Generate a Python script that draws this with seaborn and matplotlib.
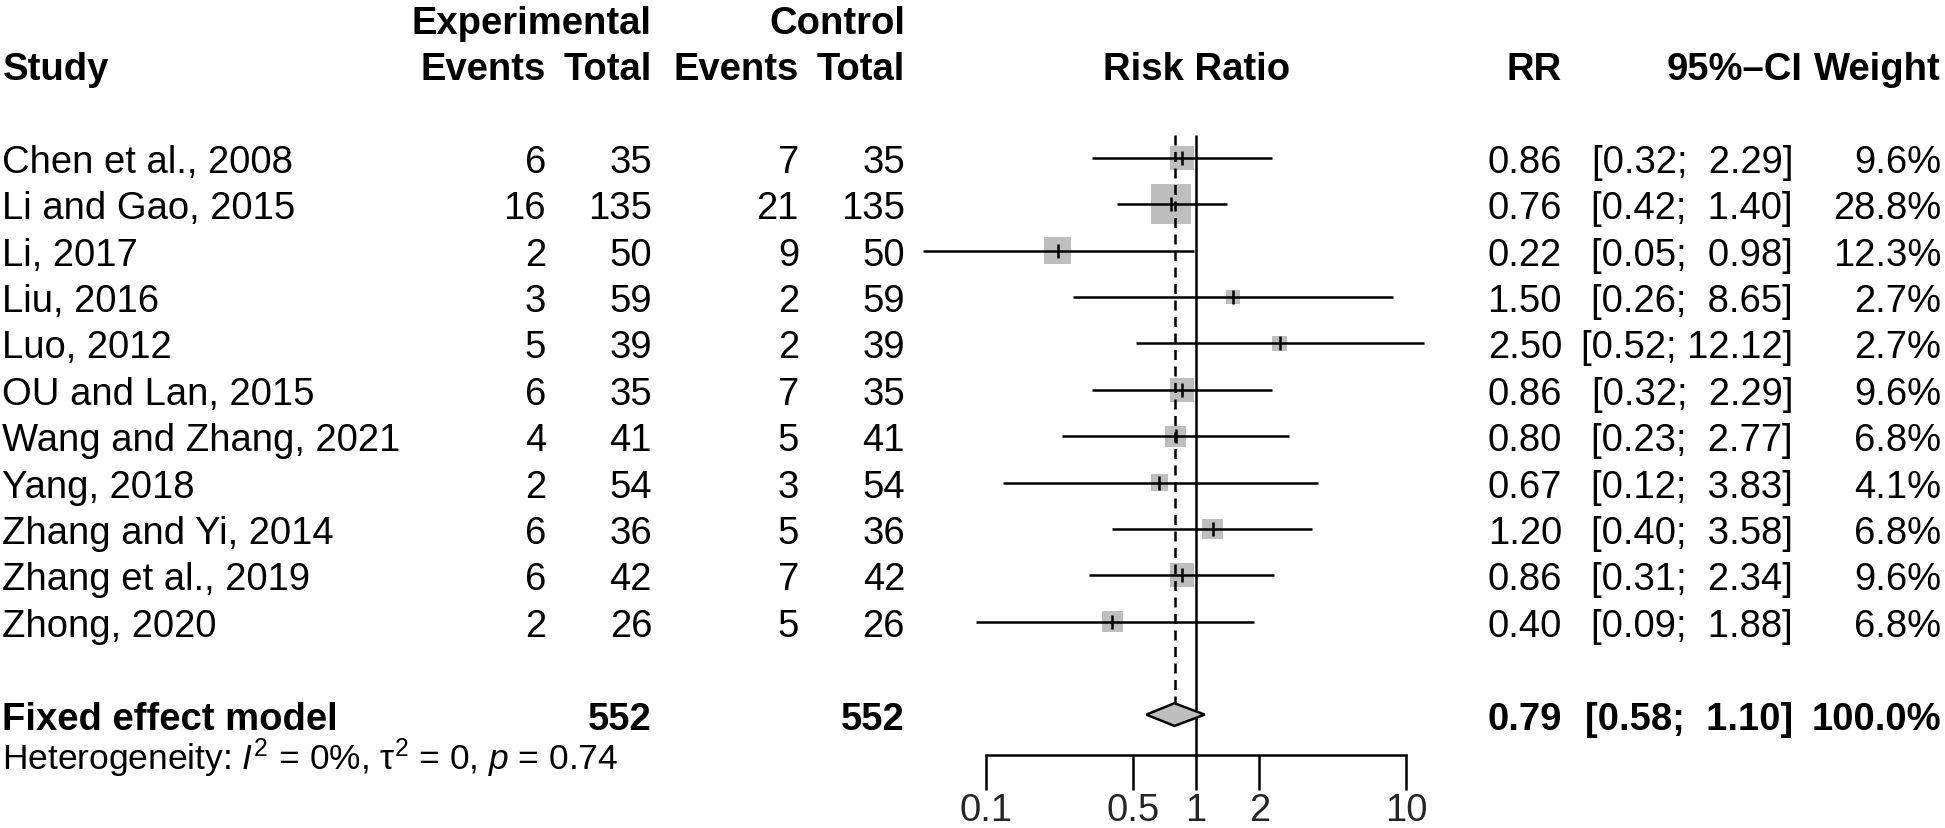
import numpy as np
import pandas as pd
import matplotlib
matplotlib.use("Agg")
import matplotlib.pyplot as plt
import matplotlib.transforms as mtransforms
from matplotlib.ticker import NullLocator
import seaborn as sns

# --- data ---
studies = ["Chen et al., 2008", "Li and Gao, 2015", "Li, 2017", "Liu, 2016", "Luo, 2012",
           "OU and Lan, 2015", "Wang and Zhang, 2021", "Yang, 2018", "Zhang and Yi, 2014",
           "Zhang et al., 2019", "Zhong, 2020"]
exp_events = [6, 16, 2, 3, 5, 6, 4, 2, 6, 6, 2]
exp_total = [35, 135, 50, 59, 39, 35, 41, 54, 36, 42, 26]
ctrl_events = [7, 21, 9, 2, 2, 7, 5, 3, 5, 7, 5]
ctrl_total = [35, 135, 50, 59, 39, 35, 41, 54, 36, 42, 26]
rr = [0.86, 0.76, 0.22, 1.50, 2.50, 0.86, 0.80, 0.67, 1.20, 0.86, 0.40]
ci_lo = [0.32, 0.42, 0.05, 0.26, 0.52, 0.32, 0.23, 0.12, 0.40, 0.31, 0.09]
ci_hi = [2.29, 1.40, 0.98, 8.65, 12.12, 2.29, 2.77, 3.83, 3.58, 2.34, 1.88]
weight = [9.6, 28.8, 12.3, 2.7, 2.7, 9.6, 6.8, 4.1, 6.8, 9.6, 6.8]

pooled_rr = 0.79
pooled_lo = 0.58
pooled_hi = 1.10
pooled_exp_total = 552
pooled_ctrl_total = 552
heterogeneity = r"Heterogeneity: $\mathit{I}^2$ = 0%, τ$^2$ = 0, $\mathit{p}$ = 0.74"
tick_vals = [0.1, 0.5, 1, 2, 10]
tick_labels = ["0.1", "0.5", "1", "2", "10"]

df = pd.DataFrame({"study": studies, "rr": rr, "lo": ci_lo, "hi": ci_hi, "weight": weight})
df["row"] = np.arange(len(df))
pooled_row = len(df) + 1

sns.set_theme(style="white")
plt.rcParams["font.family"] = ["Liberation Sans", "DejaVu Sans"]
plt.rcParams["mathtext.fontset"] = "custom"
plt.rcParams["mathtext.rm"] = "Liberation Sans"
plt.rcParams["mathtext.it"] = "Liberation Sans:italic"
plt.rcParams["mathtext.bf"] = "Liberation Sans:bold"

W, H = 1945, 829
FS = 27.5
LW = 1.8
GREY = "#BEBEBE"

fig = plt.figure(figsize=(W / 100, H / 100), dpi=100)
# forest panel: 0.1 -> 986 px, 10 -> 1406 px; rows 46.4 px apart, first study at 158.8 px
row_h = 46.4
row0 = 158.8
ax = fig.add_axes([986 / W, 0, 420 / W, 1])
ax.set_xscale("log")

sns.scatterplot(data=df, x="rr", y="row", size="weight", sizes=(108, 829), marker="s",
                color=GREY, linewidth=0, legend=False, ax=ax, zorder=1, clip_on=False)
ax.hlines(df["row"], df["lo"], df["hi"], color="black", lw=LW, zorder=2, clip_on=False)
sns.scatterplot(data=df, x="rr", y="row", marker="|", s=90, color="black", linewidth=1.8,
                legend=False, ax=ax, zorder=3, clip_on=False)

# reference lines and pooled diamond
dh = 0.245
axis_row = pooled_row + 0.86
ax.vlines(1, -0.5, axis_row, color="black", lw=LW, zorder=2)
ax.vlines(pooled_rr, -0.5, pooled_row - dh, color="black", lw=LW, linestyles=(0, (4, 2.6)), zorder=2)
ax.fill([pooled_lo, pooled_rr, pooled_hi, pooled_rr],
        [pooled_row, pooled_row - dh, pooled_row, pooled_row + dh],
        facecolor=GREY, edgecolor="black", lw=LW, zorder=4)

ax.set_xlim(0.1, 10)
ax.set_ylim((H - row0) / row_h, -row0 / row_h)
ax.set_xlabel("")
ax.set_ylabel("")
ax.set_yticks([])
for side in ["left", "right", "top"]:
    ax.spines[side].set_visible(False)
ax.spines["bottom"].set_position(("data", axis_row))
ax.spines["bottom"].set_linewidth(LW)
ax.spines["bottom"].set_color("black")
ax.set_xticks(tick_vals)
ax.set_xticklabels(tick_labels)
ax.xaxis.set_minor_locator(NullLocator())
ax.tick_params(axis="x", direction="out", length=25, width=LW, color="black",
               labelsize=FS, pad=2, bottom=True)
ax.patch.set_alpha(0)

# text columns
tr = mtransforms.blended_transform_factory(fig.transFigure, ax.transData)


def put(xpx, row, s, ha="right", bold=False, size=FS):
    ax.text(xpx / W, row, s, transform=tr, ha=ha, va="center_baseline", fontsize=size,
            fontweight="bold" if bold else "normal", color="black", clip_on=False)


x_study, x_ee, x_et, x_ce, x_ct = 2.5, 546, 652, 799, 905
x_rr, x_ci, x_w = 1562, 1793, 1941
x_title = 1197

put(x_et, -3, "Experimental", bold=True)
put(x_ct, -3, "Control", bold=True)
put(x_study, -2, "Study", ha="left", bold=True)
put(x_ee, -2, "Events", bold=True)
put(x_et, -2, "Total", bold=True)
put(x_ce, -2, "Events", bold=True)
put(x_ct, -2, "Total", bold=True)
put(x_title, -2, "Risk Ratio", ha="center", bold=True)
put(x_rr, -2, "RR", bold=True)
put(x_ci + 9, -2, "95%\u2013CI", bold=True)
put(x_w, -2, "Weight", bold=True)

for i in range(len(studies)):
    put(x_study, i, studies[i], ha="left")
    put(x_ee, i, str(exp_events[i]))
    put(x_et, i, str(exp_total[i]))
    put(x_ce, i, str(ctrl_events[i]))
    put(x_ct, i, str(ctrl_total[i]))
    put(x_rr, i, f"{rr[i]:.2f}")
    put(x_ci, i, f"[{ci_lo[i]:.2f}; {ci_hi[i]:5.2f}]")
    put(x_w, i, f"{weight[i]:.1f}%")

put(x_study, pooled_row, "Fixed effect model", ha="left", bold=True)
put(x_et, pooled_row, str(pooled_exp_total), bold=True)
put(x_ct, pooled_row, str(pooled_ctrl_total), bold=True)
put(x_rr, pooled_row, f"{pooled_rr:.2f}", bold=True)
put(x_ci, pooled_row, f"[{pooled_lo:.2f}; {pooled_hi:5.2f}]", bold=True)
put(x_w, pooled_row, "100.0%", bold=True)
put(x_study, pooled_row + 0.8, heterogeneity, ha="left", size=25.5)

fig.savefig("out.png", dpi=100)
